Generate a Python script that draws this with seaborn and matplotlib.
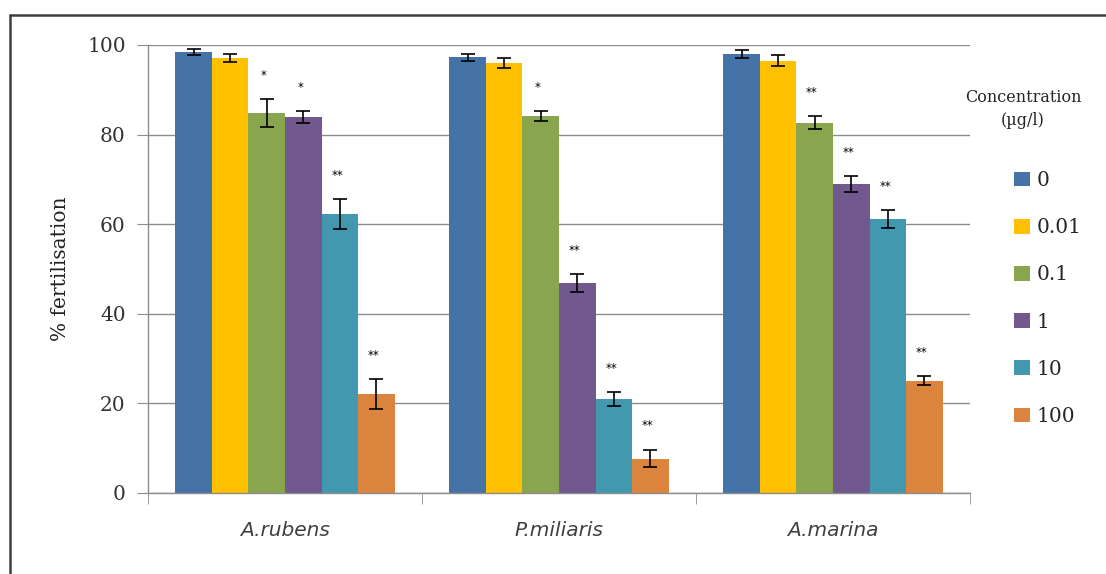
import pandas as pd
import seaborn as sns
import matplotlib.pyplot as plt
from matplotlib.patches import Patch
from matplotlib.lines import Line2D

# Werte
species = ["A.rubens", "P.miliaris", "A.marina"]
concentrations = ["0", "0.01", "0.1", "1", "10", "100"]

fert_rubens = [98.4, 97.1, 84.8, 84.0, 62.3, 22.1]
fert_miliaris = [97.3, 96.0, 84.1, 46.9, 21.0, 7.7]
fert_marina = [97.9, 96.5, 82.7, 68.9, 61.2, 25.1]

err_rubens = [0.7, 1.0, 3.1, 1.3, 3.4, 3.4]
err_miliaris = [0.8, 1.1, 1.1, 2.0, 1.6, 2.0]
err_marina = [0.9, 1.2, 1.4, 1.8, 2.0, 1.0]

stars_rubens = ["", "", "*", "*", "**", "**"]
stars_miliaris = ["", "", "*", "**", "**", "**"]
stars_marina = ["", "", "**", "**", "**", "**"]

colors = ["#4572A7", "#FFC000", "#89A54E", "#71588F", "#4198AF", "#DB843D"]

rows = []
for sp, vals, errs, st in zip(species,
                              [fert_rubens, fert_miliaris, fert_marina],
                              [err_rubens, err_miliaris, err_marina],
                              [stars_rubens, stars_miliaris, stars_marina]):
    for c, v, e, s in zip(concentrations, vals, errs, st):
        rows.append({"species": sp, "conc": c, "value": v, "err": e, "star": s})
df = pd.DataFrame(rows)

sns.set_style("white")
fig = plt.figure(figsize=(11.06, 5.74), dpi=100)
ax = fig.add_axes([148 / 1106, 1 - 493 / 574, (970 - 148) / 1106, (493 - 45) / 574])

sns.barplot(data=df, x="species", y="value", hue="conc", hue_order=concentrations,
            order=species, palette=colors, errorbar=None, width=0.8, saturation=1,
            linewidth=0, legend=False, ax=ax)

# Fehlerbalken und Sternchen
for cont, c in zip(ax.containers, concentrations):
    sub = df[df["conc"] == c].set_index("species").loc[species]
    xs = [b.get_x() + b.get_width() / 2 for b in cont]
    ax.errorbar(xs, sub["value"], yerr=sub["err"], fmt="none", ecolor="black",
                elinewidth=1.2, capsize=5, capthick=1.2, zorder=3)
    for x, v, e, s in zip(xs, sub["value"], sub["err"], sub["star"]):
        if s:
            ax.text(x - 0.01, v + e + 4.5, s, ha="center", va="baseline",
                    fontsize=8.5, color="black")

ax.set_ylim(0, 100)
ax.set_xlim(-0.5, 2.5)
ax.set_yticks(range(0, 101, 20))
ax.yaxis.grid(True, color="#8c8c8c", linewidth=1)
ax.set_axisbelow(True)
ax.tick_params(axis="y", left=True, length=8, color="#8c8c8c", labelsize=14.5,
               labelcolor="#333333", pad=8)
for lab in ax.get_yticklabels():
    lab.set_family("DejaVu Serif")
ax.set_xticks([-0.5, 0.5, 1.5, 2.5], minor=True)
ax.tick_params(axis="x", which="major", bottom=False, labelsize=14.5, pad=17,
               labelcolor="#404040")
ax.tick_params(axis="x", which="minor", bottom=True, length=8, color="#8c8c8c")
for lab in ax.get_xticklabels():
    lab.set_style("italic")
ax.set_xlabel("")
ax.set_ylabel("% fertilisation", fontsize=14.5, family="DejaVu Serif",
              labelpad=12, color="#222222")
for side in ["top", "right"]:
    ax.spines[side].set_visible(False)
for side in ["left", "bottom"]:
    ax.spines[side].set_color("#8c8c8c")
    ax.spines[side].set_linewidth(1)

# Legende
handles = [Patch(facecolor=col, edgecolor="none") for col in colors]
fig.legend(handles, concentrations, loc="center left",
           bbox_to_anchor=(1014 / 1106, 1 - 298.5 / 574), bbox_transform=fig.transFigure,
           frameon=False, borderpad=0, borderaxespad=0, handlelength=0.8,
           handleheight=0.75, handletextpad=0.3, labelspacing=1.4,
           prop={"family": "DejaVu Serif", "size": 14.5})
fig.text(1023 / 1106, 1 - 109 / 574, "Concentration\n(\u00b5g/l)", ha="center",
         va="center", fontsize=11.5, family="DejaVu Serif", linespacing=1.5)

# Rahmen
fig.add_artist(Line2D([10 / 1106, 1], [1 - 15 / 574, 1 - 15 / 574],
                      transform=fig.transFigure, color="#404040", linewidth=1.8))
fig.add_artist(Line2D([10 / 1106, 10 / 1106], [0, 1 - 15 / 574],
                      transform=fig.transFigure, color="#404040", linewidth=1.8))

fig.savefig("out.png", dpi=100)
